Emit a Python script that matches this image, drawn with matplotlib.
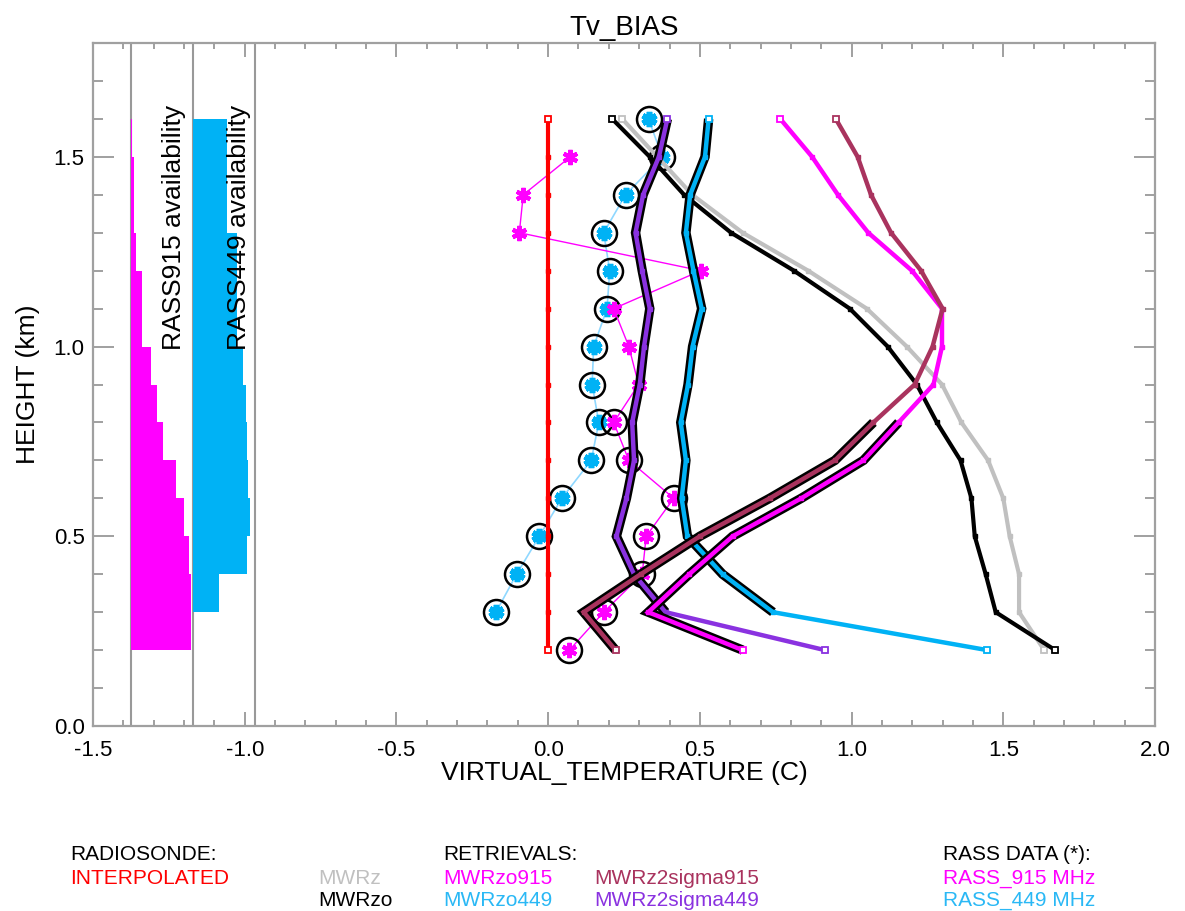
import numpy as np
import matplotlib
matplotlib.use('Agg')
import matplotlib.pyplot as plt

plt.rcParams['font.family'] = ['Liberation Sans', 'DejaVu Sans']

# heights of the retrieval / radiosonde levels (km)
heights = [0.2, 0.3, 0.4, 0.5, 0.6, 0.7, 0.8, 0.9, 1.0, 1.1, 1.2, 1.3, 1.4, 1.5, 1.6]

interpolated = [0.0] * 15
mwrz = [1.635, 1.552, 1.552, 1.521, 1.500, 1.450, 1.362, 1.298, 1.182, 1.050, 0.857, 0.641, 0.475, 0.360, 0.244]
mwrzo = [1.671, 1.475, 1.442, 1.406, 1.395, 1.359, 1.281, 1.215, 1.119, 0.994, 0.810, 0.603, 0.448, 0.335, 0.211]
mwrzo915 = [0.641, 0.330, 0.465, 0.608, 0.834, 1.039, 1.155, 1.270, 1.298, 1.298, 1.199, 1.055, 0.955, 0.870, 0.765]
mwrz2sigma915 = [0.222, 0.117, 0.305, 0.500, 0.730, 0.945, 1.072, 1.208, 1.267, 1.300, 1.229, 1.130, 1.064, 1.020, 0.948]
mwrzo449 = [1.447, 0.741, 0.575, 0.459, 0.440, 0.454, 0.437, 0.461, 0.476, 0.506, 0.479, 0.454, 0.468, 0.517, 0.529]
mwrz2sigma449 = [0.912, 0.387, 0.283, 0.225, 0.258, 0.283, 0.277, 0.302, 0.316, 0.335, 0.310, 0.288, 0.313, 0.365, 0.393]

# RASS data
rass915_h = [0.2, 0.3, 0.4, 0.5, 0.6, 0.7, 0.8, 0.9, 1.0, 1.1, 1.2, 1.3, 1.4, 1.5]
rass915 = [0.070, 0.183, 0.310, 0.323, 0.414, 0.266, 0.216, 0.298, 0.266, 0.216, 0.503, -0.095, -0.082, 0.073]
rass449_h = [0.3, 0.4, 0.5, 0.6, 0.7, 0.8, 0.9, 1.0, 1.1, 1.2, 1.3, 1.4, 1.5, 1.6]
rass449 = [-0.172, -0.104, -0.029, 0.045, 0.142, 0.167, 0.145, 0.150, 0.194, 0.203, 0.183, 0.255, 0.376, 0.331]
rass915_top = 0.8   # circled / outlined below this height
rass449_bottom = 0.3

# availability histograms (bin bottoms, bar right ends in plot x units)
avail915_bins = [0.2, 0.3, 0.4, 0.5, 0.6, 0.7, 0.8, 0.9, 1.0, 1.1, 1.2, 1.3, 1.4, 1.5]
avail915_end = [-1.176, -1.176, -1.184, -1.200, -1.225, -1.269, -1.288, -1.309, -1.337, -1.337, -1.359, -1.364, -1.364, -1.372]
avail449_bins = [0.3, 0.4, 0.5, 0.6, 0.7, 0.8, 0.9, 1.0, 1.1, 1.2, 1.3, 1.4, 1.5]
avail449_end = [-1.085, -0.992, -0.984, -0.988, -0.992, -0.997, -1.006, -1.024, -1.024, -1.024, -1.057, -1.057, -1.057]
avail_lines = [-1.375, -1.17, -0.965]

RED = '#ff0000'
GRAY = '#c0c0c0'
MAG = '#ff00ff'
MAROON = '#a9335e'
CYAN = '#00b2f5'
PURPLE = '#8a32e0'
LCYAN = '#8fd8ff'
AXC = '#a0a0a0'

fig = plt.figure(figsize=(11.85, 9.11), dpi=100)
ax = fig.add_axes([93/1185, 1-726/911, (1155-93)/1185, (726-43)/911])

h = np.array(heights)

# availability panel
for x in avail_lines:
    ax.axvline(x, color='#999999', lw=1.5, zorder=1)
ax.barh(avail915_bins, np.array(avail915_end) - avail_lines[0], left=avail_lines[0],
        height=0.1, align='edge', color=MAG, lw=0, zorder=2)
ax.barh(avail449_bins, np.array(avail449_end) - avail_lines[1], left=avail_lines[1],
        height=0.1, align='edge', color=CYAN, lw=0, zorder=2)
ax.text(-1.232, 1.315, 'RASS915 availability', rotation=90, ha='center', va='center', fontsize=19, zorder=3)
ax.text(-1.02, 1.315, 'RASS449 availability', rotation=90, ha='center', va='center', fontsize=19, zorder=3)


def endpoints(x, y, color, z):
    ax.plot([x[0], x[-1]], [y[0], y[-1]], ls='none', marker='s', ms=5, mfc='white',
            mec=color, mew=1.3, zorder=z + 0.2)


def series(x, color, z, lw=3.0, outline=None):
    x = np.array(x)
    if outline is not None:
        m = (h >= outline[0] - 1e-6) & (h <= outline[1] + 1e-6)
        ax.plot(x[m], h[m], color='black', lw=lw + 3.6, solid_joinstyle='miter',
                solid_capstyle='butt', zorder=z)
    ax.plot(x, h, color=color, lw=lw, marker='s', ms=3.5, mfc=color, mec=color,
            solid_joinstyle='miter', zorder=z + 0.1)
    endpoints(x, h, color, z)


# RASS points
r449 = np.array(rass449)
ax.plot(r449, rass449_h, color=LCYAN, lw=1.2, zorder=4)
ax.plot(r449, rass449_h, ls='none', marker=(6, 2, 0), ms=11, mew=4, color=CYAN, zorder=4.1)
ax.plot(r449, rass449_h, ls='none', marker='o', ms=18, mfc='none', mec='black', mew=1.8, zorder=4.2)

r915 = np.array(rass915)
r915h = np.array(rass915_h)
ax.plot(r915, r915h, color=MAG, lw=1.0, zorder=4.3)
ax.plot(r915, r915h, ls='none', marker=(6, 2, 0), ms=11, mew=3, color=MAG, zorder=4.4)
c = r915h <= rass915_top + 1e-6
ax.plot(r915[c], r915h[c], ls='none', marker='o', ms=18, mfc='none', mec='black', mew=1.8, zorder=4.5)

# lines
series(interpolated, RED, 5)
series(mwrz, GRAY, 6)
series(mwrzo, 'black', 7)
series(mwrzo449, CYAN, 8, lw=3.2, outline=(rass449_bottom, 1.6))
series(mwrz2sigma449, PURPLE, 9, lw=3.2, outline=(rass449_bottom, 1.6))
series(mwrzo915, MAG, 10, lw=3.2, outline=(0.2, rass915_top))
series(mwrz2sigma915, MAROON, 11, lw=3.2, outline=(0.2, rass915_top))

# axes styling
ax.set_xlim(-1.5, 2.0)
ax.set_ylim(0.0, 1.8)
ax.set_xticks(np.arange(-1.5, 2.01, 0.5))
ax.set_xticks(np.arange(-1.5, 2.01, 0.1), minor=True)
ax.set_yticks(np.arange(0.0, 1.81, 0.5))
ax.set_yticks(np.arange(0.0, 1.81, 0.1), minor=True)
ax.xaxis.set_major_formatter(matplotlib.ticker.FormatStrFormatter('%.1f'))
ax.yaxis.set_major_formatter(matplotlib.ticker.FormatStrFormatter('%.1f'))
for s in ax.spines.values():
    s.set_color(AXC)
    s.set_linewidth(1.6)
ax.tick_params(axis='both', which='both', direction='in', top=True, right=True,
               color=AXC, width=1.4, labelsize=16)
ax.tick_params(axis='x', which='major', length=10, pad=10)
ax.tick_params(axis='x', which='minor', length=4.5)
ax.tick_params(axis='y', which='major', length=15, pad=6)
ax.tick_params(axis='y', which='minor', length=7.5)

ax.set_xlabel('VIRTUAL_TEMPERATURE (C)', fontsize=19, labelpad=0)
ax.set_ylabel('HEIGHT (km)', fontsize=19, labelpad=10)
ax.set_title('Tv_BIAS', fontsize=20, pad=6)

# legend text
def ftext(px, py, s, color='black'):
    fig.text(px / 1185, 1 - py / 911, s, color=color, fontsize=15, ha='left', va='center')

ftext(70, 855, 'RADIOSONDE:')
ftext(443, 855, 'RETRIEVALS:')
ftext(943, 855, 'RASS DATA (*):')
ftext(70, 879, 'INTERPOLATED', RED)
ftext(318, 879, 'MWRz', GRAY)
ftext(318, 900, 'MWRzo', 'black')
ftext(443, 879, 'MWRzo915', MAG)
ftext(443, 900, 'MWRzo449', '#2ab8f5')
ftext(594, 879, 'MWRz2sigma915', MAROON)
ftext(594, 900, 'MWRz2sigma449', PURPLE)
ftext(943, 879, 'RASS_915 MHz', MAG)
ftext(943, 900, 'RASS_449 MHz', '#2ab8f5')

fig.savefig('out.png', dpi=100)
